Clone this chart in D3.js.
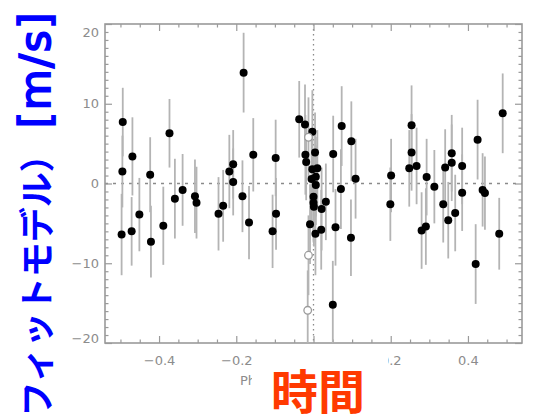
<!DOCTYPE html>
<html><head><meta charset="utf-8">
<script src="https://cdn.jsdelivr.net/npm/d3@7"></script>
<style>body{margin:0;background:#fff;overflow:hidden}svg{display:block}</style>
</head><body>
<svg id="c" width="546" height="418"></svg>
<script>
// Phase (x) of filled points
const phase = [-0.494,-0.495,-0.497,-0.469,-0.471,-0.451,-0.423,-0.421,-0.389,-0.373,
  -0.359,-0.339,-0.307,-0.303,-0.246,-0.234,-0.218,-0.208,-0.208,-0.184,
  -0.181,-0.167,-0.156,-0.106,-0.098,-0.097,
  -0.037,-0.022,-0.003,0.004,-0.021,-0.019,-0.003,0.010,-0.005,0.006,
  0.006,0.000,0.000,0.001,0.021,0.032,-0.009,0.020,0.005,
  0.051,0.073,0.071,0.098,0.109,0.057,0.097,0.050,
  0.201,0.199,0.254,0.254,0.248,0.267,0.293,0.313,0.280,0.291,
  0.341,0.336,0.358,0.358,0.349,0.367,0.385,0.385,0.425,0.438,0.444,0.420,0.490,0.481];
// Velocity residual values [m/s]
const rv = [7.7,1.5,-6.4,3.4,-6.0,-3.9,1.1,-7.3,-5.3,6.3,
  -1.9,-0.8,-1.6,-2.4,-3.8,-2.8,1.5,2.4,0.2,-1.6,
  13.9,-4.9,3.6,-6.0,3.2,-3.8,
  8.05,7.4,6.5,3.9,3.6,2.7,1.8,1.9,0.56,0.85,
  -0.2,-1.65,-2.4,-2.9,-3.2,-2.3,-5.1,-5.8,-6.3,
  3.7,7.2,-0.7,5.3,0.6,-5.5,-6.8,-15.2,
  1.0,-2.6,7.3,3.9,1.9,2.2,0.8,-0.4,-5.9,-5.4,
  2.0,-2.6,3.8,2.6,-4.6,-3.7,2.2,-1.15,5.5,-0.8,-1.2,-10.1,8.8,-6.3];
// Error bar half-lengths [m/s]
const err = [4.3,4.5,5.1,4.9,4.3,4.6,4.7,4.5,4.9,4.3,
  5.0,4.5,4.6,4.5,4.6,4.5,4.6,4.3,4.2,4.5,
  5.0,4.6,4.6,4.6,4.8,4.5,
  4.8,5.0,5.2,5.0,5.0,4.8,5.0,4.8,5.2,5.0,
  5.0,5.2,5.0,5.0,5.2,4.8,5.0,5.0,5.2,
  4.8,5.0,5.0,5.0,5.0,4.8,4.8,5.5,
  4.6,4.6,5.0,4.8,4.8,4.8,4.8,4.6,4.8,4.8,
  4.8,4.8,4.8,4.8,4.8,4.8,4.8,4.8,5.0,4.6,4.6,5.0,5.0,4.5];
// Open (gray) points
const openPhase = [-0.013,-0.013,-0.015];
const openRv = [5.8,-9.0,-15.9];
const openErr = [5.0,5.0,5.0];

const xTicks = [-0.4,-0.2,0,0.2,0.4];
const xTickLabels = ["\u22120.4","\u22120.2","0.0","0.2","0.4"];
const xMinor = [-0.5,-0.45,-0.35,-0.3,-0.25,-0.15,-0.1,-0.05,0.05,0.1,0.15,0.25,0.3,0.35,0.45,0.5];
const yTicks = [-20,-10,0,10,20];
const yTickLabels = ["\u221220","\u221210","0","10","20"];
const yMinor = d3.range(-19,20).filter(v => v % 10 !== 0);
const xTitle = "Phase";
const yTitleJa = "速度（フィットモデル）";
const yTitleUnit = "[m/s]";
const overlayTitle = "時間";

const svg = d3.select("#c");
const x = d3.scaleLinear().domain([-0.54,0.54]).range([105,522]);
const y = d3.scaleLinear().domain([-20,20]).range([343,24]);
const axisCol = "#9a9a9a";
const [x0,x1] = x.range(), [y0,y1] = y.range();

// reference lines
svg.append("line").attr("x1",x0).attr("x2",x1).attr("y1",y(0)).attr("y2",y(0))
  .attr("stroke","#8a8a8a").attr("stroke-width",1.3).attr("stroke-dasharray","3,5");
svg.append("line").attr("x1",x(0)).attr("x2",x(0)).attr("y1",y1).attr("y2",y0)
  .attr("stroke","#8a8a8a").attr("stroke-width",1.3).attr("stroke-dasharray","1.5,3.5");

function styleAxis(g){
  g.select(".domain").remove();
  g.selectAll("line").attr("stroke",axisCol).attr("stroke-width",1.2);
  g.selectAll("text").attr("fill","#8c8c8c").attr("font-family","DejaVu Sans").attr("font-size",13);
}
// bottom
svg.append("g").attr("transform",`translate(0,${y0})`)
  .call(d3.axisBottom(x).tickValues(xTicks).tickSize(-7).tickPadding(13).tickFormat((d,i)=>xTickLabels[i])).call(styleAxis);
svg.append("g").attr("transform",`translate(0,${y0})`)
  .call(d3.axisBottom(x).tickValues(xMinor).tickSize(-3.5).tickFormat("")).call(styleAxis);
// top
svg.append("g").attr("transform",`translate(0,${y1})`)
  .call(d3.axisTop(x).tickValues(xTicks).tickSize(-7).tickFormat("")).call(styleAxis);
svg.append("g").attr("transform",`translate(0,${y1})`)
  .call(d3.axisTop(x).tickValues(xMinor).tickSize(-3.5).tickFormat("")).call(styleAxis);
// left
const gl = svg.append("g").attr("transform",`translate(${x0},0)`)
  .call(d3.axisLeft(y).tickValues(yTicks).tickSize(-7).tickPadding(6).tickFormat((d,i)=>yTickLabels[i])).call(styleAxis);
gl.selectAll(".tick text").attr("dy",d => d===20 ? "0.95em" : d===-20 ? "-0.05em" : "0.32em");
svg.append("g").attr("transform",`translate(${x0},0)`)
  .call(d3.axisLeft(y).tickValues(yMinor).tickSize(-3.5).tickFormat("")).call(styleAxis);
// right
svg.append("g").attr("transform",`translate(${x1},0)`)
  .call(d3.axisRight(y).tickValues(yTicks).tickSize(-7).tickFormat("")).call(styleAxis);
svg.append("g").attr("transform",`translate(${x1},0)`)
  .call(d3.axisRight(y).tickValues(yMinor).tickSize(-3.5).tickFormat("")).call(styleAxis);
// frame
svg.append("rect").attr("x",x0).attr("y",y1).attr("width",x1-x0).attr("height",y0-y1)
  .attr("fill","none").attr("stroke",axisCol).attr("stroke-width",1.6);

svg.append("clipPath").attr("id","pc").append("rect")
  .attr("x",x0).attr("y",y1).attr("width",x1-x0).attr("height",y0-y1);
const plot = svg.append("g").attr("clip-path","url(#pc)");

const pts = phase.map((p,i)=>({p, v:rv[i], e:err[i]}));
const opts = openPhase.map((p,i)=>({p, v:openRv[i], e:openErr[i]}));

plot.selectAll("line.eb").data(pts.concat(opts)).join("line").attr("class","eb")
  .attr("x1",d=>x(d.p)).attr("x2",d=>x(d.p))
  .attr("y1",d=>y(d.v+d.e)).attr("y2",d=>y(d.v-d.e))
  .attr("stroke","#b4b4b4").attr("stroke-width",1.8);
plot.selectAll("circle.pt").data(pts).join("circle").attr("class","pt")
  .attr("cx",d=>x(d.p)).attr("cy",d=>y(d.v)).attr("r",4)
  .attr("fill","#000");
plot.selectAll("circle.op").data(opts).join("circle").attr("class","op")
  .attr("cx",d=>x(d.p)).attr("cy",d=>y(d.v)).attr("r",3.8)
  .attr("fill","#fff").attr("stroke","#9a9a9a").attr("stroke-width",1.3);

// x axis title (mostly covered)
svg.append("text").attr("x",240).attr("y",385).attr("font-family","DejaVu Sans").attr("font-size",13)
  .attr("fill","#8c8c8c").text(xTitle);

// overlay box + Japanese labels
svg.append("rect").attr("x",252).attr("y",348).attr("width",136).attr("height",70).attr("fill","#fff");
svg.append("text").attr("x",318).attr("y",409).attr("text-anchor","middle")
  .attr("font-family","Noto Sans CJK JP").attr("font-weight","bold").attr("font-size",47)
  .attr("fill","#ff3a00").text(overlayTitle);
const yt = svg.append("text").attr("transform","translate(50,11) rotate(-90)")
  .attr("text-anchor","end").attr("fill","#0000ff");
yt.append("tspan").attr("font-family","Noto Sans CJK JP").attr("font-weight","bold").attr("font-size",35).text(yTitleJa);
yt.append("tspan").attr("dx",9).attr("font-family","DejaVu Sans").attr("font-size",42)
  .attr("letter-spacing",1.5).attr("stroke","#0000ff").attr("stroke-width",1.8).text(yTitleUnit);
</script>
</body></html>
